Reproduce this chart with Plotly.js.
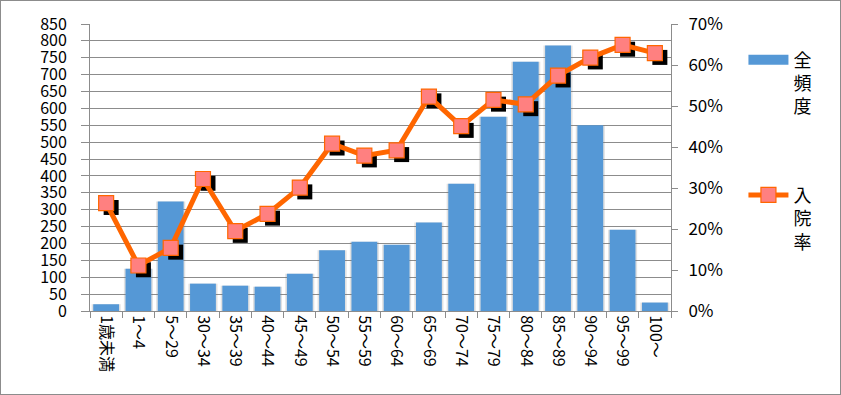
<!DOCTYPE html>
<html>
<head>
<meta charset="utf-8">
<script src="https://cdn.plot.ly/plotly-3.0.1.min.js"></script>
<style>
html,body{margin:0;padding:0;background:#fff;}
#wrap{position:relative;width:841px;height:395px;}
#chart{width:841px;height:395px;}
#frame{position:absolute;left:0;top:0;width:841px;height:395px;box-sizing:border-box;border:1px solid #8c8c8c;pointer-events:none;}
</style>
</head>
<body>
<div id="wrap"><div id="chart"></div><div id="frame"></div></div>
<script>
const categories = ['1歳未満','1～4','5～29','30～34','35～39','40～44','45～49','50～54','55～59','60～64','65～69','70～74','75～79','80～84','85～89','90～94','95～99','100～'];
const frequency = [20,125,324,81,75,72,110,180,205,196,262,377,575,738,786,550,241,25];
const admissionRate = [0.263,0.111,0.154,0.322,0.195,0.237,0.301,0.408,0.379,0.392,0.523,0.451,0.515,0.504,0.574,0.618,0.649,0.629];
const seriesNames = ['全<br>頻<br>度','入<br>院<br>率'];

const FONT = '"Noto Sans CJK JP", "Noto Sans", sans-serif';
const BLUE = '#5598d6';
const catRange = [-0.5, categories.length - 0.5];
const shiftX = 0.155;     // shadow offset in category units (~5px)
const shiftY = 0.0105;    // shadow offset in rate units (~4px)

const traces = [
  { // soft glow behind bars
    type:'bar', x:categories, y:frequency, xaxis:'x', yaxis:'y',
    width:0.9, marker:{color:'rgba(120,120,120,0.22)', line:{width:0}},
    showlegend:false, hoverinfo:'skip'
  },
  {
    type:'bar', x:categories, y:frequency, name:seriesNames[0], xaxis:'x', yaxis:'y',
    width:0.8, marker:{color:BLUE, line:{width:0}},
    showlegend:false
  },
  { // legend proxy for the bar series (wide rectangle icon)
    type:'scatter', mode:'lines', x:[null], y:[null], name:seriesNames[0], xaxis:'x', yaxis:'y',
    line:{color:BLUE, width:12}, legendgroup:'a', hoverinfo:'skip'
  },
  { // marker shadow
    type:'scatter', mode:'markers', x:categories, y:admissionRate, xaxis:'x2', yaxis:'y2',
    marker:{symbol:'square', size:15, color:'#000000'},
    showlegend:false, hoverinfo:'skip'
  },
  {
    type:'scatter', mode:'lines+markers', x:categories, y:admissionRate, name:seriesNames[1],
    xaxis:'x3', yaxis:'y3',
    line:{color:'#ff6600', width:5},
    marker:{symbol:'square', size:15, color:'#ff8080', line:{color:'#ff6600', width:1.2}},
    legendgroup:'b'
  },
  { // spacer so the legend box is tall enough for the last entry; also carries the label axis
    type:'scatter', mode:'lines', x:[null], y:[null], name:'\u00a0', xaxis:'x3', yaxis:'y4',
    line:{color:'rgba(0,0,0,0)', width:1}, legendgroup:'c', hoverinfo:'skip'
  }
];

const layout = {
  width:841, height:395,
  margin:{l:90, r:170, t:24, b:84},
  paper_bgcolor:'#ffffff', plot_bgcolor:'#ffffff',
  font:{family:FONT, color:'#000000', size:16},
  barmode:'overlay',
  showlegend:true,
  legend:{
    xref:'container', yref:'container', x:0.884, y:0.895, xanchor:'left', yanchor:'top',
    font:{family:FONT, size:18, color:'#000000'},
    traceorder:'grouped', tracegroupgap:62, valign:'top', maxheight:1000,
    bgcolor:'rgba(0,0,0,0)', itemwidth:40
  },
  xaxis:{
    type:'category', range:catRange.slice(), showgrid:false,
    showline:true, linecolor:'#8c8c8c', linewidth:1,
    ticks:'outside', ticklen:6, tickcolor:'#8c8c8c', tickson:'boundaries',
    tickangle:90, tickfont:{family:FONT, size:16, color:'#000000'},
    fixedrange:true
  },
  xaxis2:{
    type:'category', overlaying:'x', range:[catRange[0]-shiftX, catRange[1]-shiftX],
    visible:false, fixedrange:true
  },
  xaxis3:{
    type:'category', overlaying:'x', range:catRange.slice(), visible:false, fixedrange:true
  },
  yaxis:{
    range:[0,850], dtick:50, tick0:0, showgrid:true, gridcolor:'#8c8c8c', gridwidth:1,
    showline:true, linecolor:'#8c8c8c', linewidth:1,
    ticks:'outside', ticklen:8, tickcolor:'#8c8c8c', ticklabelstandoff:11,
    tickfont:{family:FONT, size:16, color:'#000000'},
    zeroline:false, fixedrange:true
  },
  yaxis2:{
    overlaying:'y', range:[0+shiftY, 0.7+shiftY], visible:false, fixedrange:true
  },
  yaxis3:{
    overlaying:'y', side:'right', range:[0,0.7], dtick:0.1, tick0:0,
    showticklabels:false,
    showgrid:false, showline:true, linecolor:'#8c8c8c', linewidth:1,
    ticks:'outside', ticklen:6, tickcolor:'#8c8c8c',
    zeroline:false, fixedrange:true
  },
  yaxis4:{ // label copy of the rate axis, with a wider gap like the reference
    overlaying:'y', side:'right', range:[0,0.7], dtick:0.1, tick0:0, tickformat:'.0%',
    showgrid:false, showline:false,
    ticks:'outside', ticklen:13, tickcolor:'rgba(0,0,0,0)',
    tickfont:{family:FONT, size:17, color:'#000000'},
    zeroline:false, fixedrange:true
  }
};

Plotly.newPlot('chart', traces, layout, {displayModeBar:false, staticPlot:true});
</script>
</body>
</html>
